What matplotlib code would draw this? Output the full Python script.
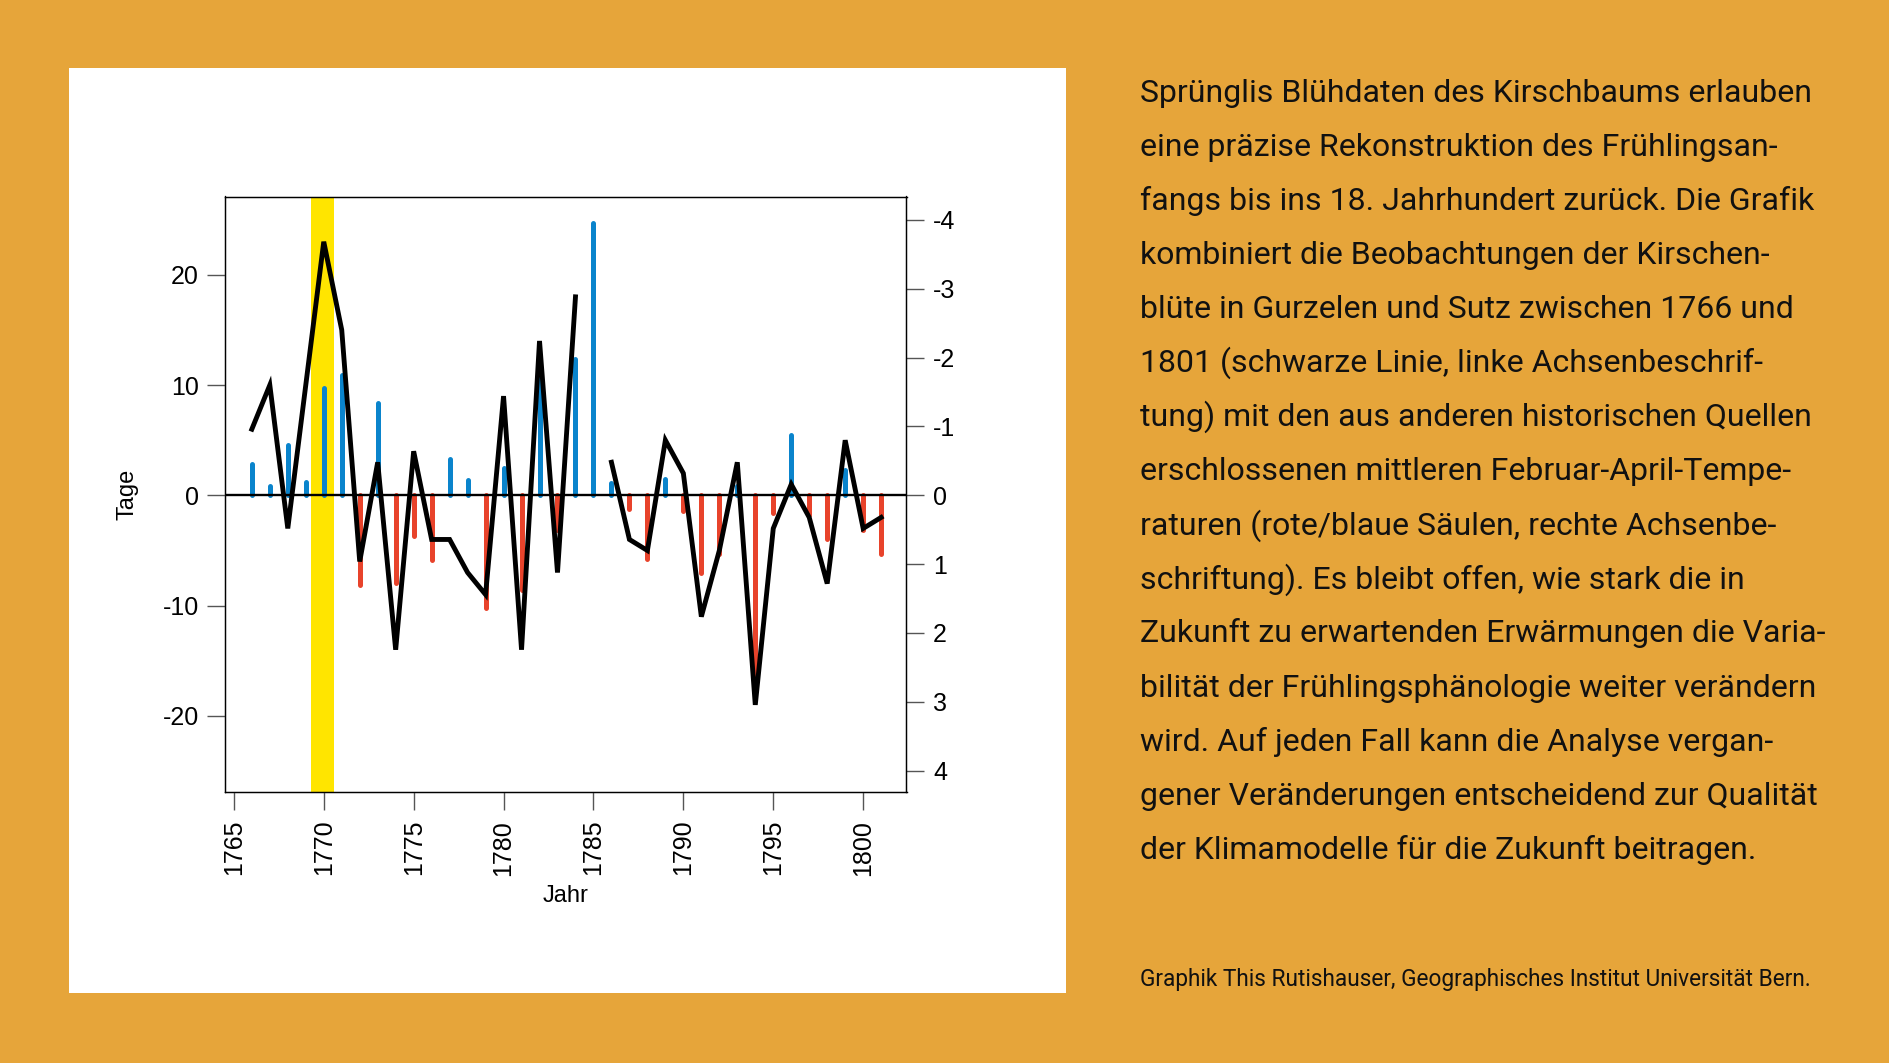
import numpy as np
from matplotlib import pyplot as plt
from matplotlib import font_manager
from matplotlib.patches import Rectangle

#Bloom dates (days, left axis) and Feb-Apr temperatures (right axis)
years = list(range(1766, 1802))
bloomDays = [6, 10, -3, 10, 23, 15, -6, 3, -14, 4, -4, -4, -7, -9, 9, -14, 14, -7, 18, np.nan,
             3, -4, -5, 5, 2, -11, -5, 3, -19, -3, 1, -2, -8, 5, -3, -2]
tempAnom = [-0.45, -0.13, -0.73, -0.19, -1.56, -1.75, 1.30, -1.34, 1.27, 0.59, 0.94, -0.53,
            -0.22, 1.64, -0.39, 1.38, -1.90, 0.51, -1.98, -3.95, -0.18, 0.20, 0.93, -0.23,
            0.23, 1.13, 0.86, -0.14, 2.88, 0.26, -0.88, 0.28, 0.64, -0.36, 0.50, 0.85]
highlightYear = (1769.3, 1770.55)

leftTicks = [-20, -10, 0, 10, 20]
rightTicks = [-4, -3, -2, -1, 0, 1, 2, 3, 4]
xTicks = list(range(1765, 1801, 5))

bodyLines = [
    "Sprünglis Blühdaten des Kirschbaums erlauben",
    "eine präzise Rekonstruktion des Frühlingsan-",
    "fangs bis ins 18. Jahrhundert zurück. Die Grafik",
    "kombiniert die Beobachtungen der Kirschen-",
    "blüte in Gurzelen und Sutz zwischen 1766 und",
    "1801 (schwarze Linie, linke Achsenbeschrif-",
    "tung) mit den aus anderen historischen Quellen",
    "erschlossenen mittleren Februar-April-Tempe-",
    "raturen (rote/blaue Säulen, rechte Achsenbe-",
    "schriftung). Es bleibt offen, wie stark die in",
    "Zukunft zu erwartenden Erwärmungen die Varia-",
    "bilität der Frühlingsphänologie weiter verändern",
    "wird. Auf jeden Fall kann die Analyse vergan-",
    "gener Veränderungen entscheidend zur Qualität",
    "der Klimamodelle für die Zukunft beitragen.",
]
credit = "Graphik This Rutishauser, Geographisches Institut Universität Bern."

bgColor = '#E6A53A'
blue = '#0A84CC'
red = '#E8432B'
yellow = '#FFE500'

plt.rcParams['axes.unicode_minus'] = False
plt.rcParams['font.family'] = ['Liberation Sans', 'DejaVu Sans']

#Pick a narrow face for the text block if there is one
names = {f.name for f in font_manager.fontManager.ttflist}
textFont = 'Liberation Sans Narrow' if 'Liberation Sans Narrow' in names else 'Roboto'

W, H = 1890, 1063
fig = plt.figure(figsize=(W / 100, H / 100), dpi=100, facecolor=bgColor)

#White panel behind the chart
fig.patches.append(Rectangle((68.7 / W, 1 - 993.3 / H), (1065.6 - 68.7) / W, (993.3 - 67.5) / H,
                             transform=fig.transFigure, facecolor='white', edgecolor='none', zorder=-5))

ax = fig.add_axes([225.4 / W, 1 - 792 / H, (906.5 - 225.4) / W, (792 - 196.5) / H])
ax2 = ax.twinx()
ax.set_zorder(ax2.get_zorder() + 1)
ax.patch.set_visible(False)
ax2.patch.set_facecolor('white')

#Temperature bars on the right (inverted) axis
ax2.axvspan(highlightYear[0], highlightYear[1], color=yellow, lw=0, zorder=0)
temps = np.array(tempAnom)
barColors = [blue if t < 0 else red for t in temps]
bars = ax2.vlines(years, 0, temps, colors=barColors, linewidth=3.6, zorder=2)
bars.set_capstyle('round')
ax2.set_ylim(4.31, -4.34)
ax2.set_yticks(rightTicks)
ax2.set_yticklabels([str(t) for t in rightTicks])

#Bloom dates on the left axis
ax.axhline(0, color='black', lw=1.7, zorder=3)
ax.plot(years, bloomDays, color='black', lw=3.5, solid_joinstyle='miter', zorder=4)
ax.set_ylim(-26.9, 27.1)
ax.set_xlim(1764.53, 1802.41)
ax.set_yticks(leftTicks)
ax.set_yticklabels([str(t) for t in leftTicks])
ax.set_xticks(xTicks)
ax.set_xticklabels([str(t) for t in xTicks], rotation=90)

ax.set_ylabel('Tage', fontsize=17)
ax.yaxis.set_label_coords(-0.127, 0.5)
ax.set_xlabel('Jahr', fontsize=17)
ax.xaxis.set_label_coords(0.5, -0.156)

for a in (ax, ax2):
    a.tick_params(axis='both', labelsize=18, length=13, width=1, color='#555555')
    for s in a.spines.values():
        s.set_linewidth(0.9)
ax.tick_params(axis='y', pad=6)
ax.tick_params(axis='x', pad=7)
ax2.tick_params(axis='y', pad=6)

#Text block on the right, sized to fill the column
renderer = fig.canvas.get_renderer()
textLeft = 1140 / W
baseline0 = 101.5
lineStep = 54.1
probe = fig.text(0, 0, bodyLines[11], fontsize=20, family=textFont)
width = probe.get_window_extent(renderer).width
probe.remove()
bodySize = 20 * 674 / width
for i, line in enumerate(bodyLines):
    fig.text(textLeft, 1 - (baseline0 + i * lineStep) / H, line, fontsize=bodySize,
             family=textFont, va='baseline', ha='left', color='#111111')

probe = fig.text(0, 0, credit, fontsize=14, family=textFont)
width = probe.get_window_extent(renderer).width
probe.remove()
fig.text(textLeft, 1 - 986 / H, credit, fontsize=14 * 674 / width, family=textFont,
         va='baseline', ha='left', color='#111111')

fig.savefig('out.png', dpi=100, facecolor=bgColor)
